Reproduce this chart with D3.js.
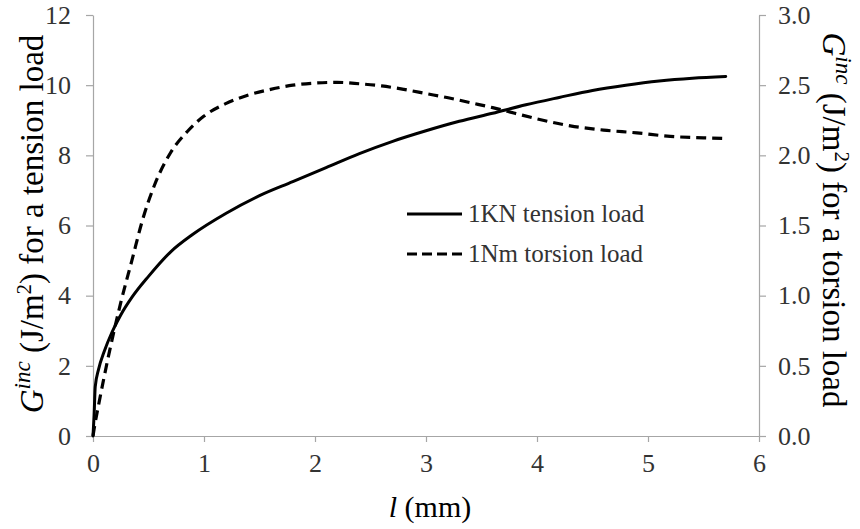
<!DOCTYPE html>
<html><head><meta charset="utf-8">
<script src="https://cdn.jsdelivr.net/npm/d3@7"></script>
<style>
body{margin:0;background:#fff;}
</style></head>
<body><svg id="c" width="860" height="529"></svg>
<script>
// Data
const tensionX = [0,0.01,0.02,0.05,0.1,0.17,0.25,0.35,0.5,0.7,0.9,1.2,1.5,1.8,2.1,2.4,2.7,3.0,3.3,3.6,3.9,4.2,4.5,4.8,5.1,5.4,5.7];
const tensionY = [0,0.6,1.4,1.9,2.4,2.95,3.45,3.95,4.55,5.25,5.75,6.35,6.85,7.25,7.65,8.05,8.4,8.7,8.97,9.2,9.44,9.65,9.85,10.0,10.12,10.2,10.25];
const torsionX = [0,0.01,0.05,0.1,0.17,0.25,0.35,0.45,0.55,0.7,0.85,1.0,1.2,1.4,1.6,1.8,2.0,2.2,2.4,2.6,2.8,3.0,3.2,3.4,3.6,3.8,4.0,4.3,4.6,4.9,5.2,5.5,5.7];
const torsionY = [0,0.05,0.22,0.42,0.68,0.95,1.25,1.55,1.78,2.02,2.17,2.28,2.37,2.43,2.47,2.5,2.515,2.52,2.51,2.495,2.47,2.44,2.41,2.375,2.34,2.3,2.26,2.21,2.18,2.16,2.135,2.125,2.12];
const xTicks = [0,1,2,3,4,5,6];
const yLeftTicks = [0,2,4,6,8,10,12];
const yRightTicks = [0,0.5,1,1.5,2,2.5,3];
const seriesNames = ["1KN tension load","1Nm torsion load"];

const FONT = '"Liberation Serif", "Times New Roman", serif';

const svg = d3.select("#c");
const L=93, R=759, T=15, B=436;
const x = d3.scaleLinear().domain([0,6]).range([L,R]);
const yL = d3.scaleLinear().domain([0,12]).range([B,T]);
const yR = d3.scaleLinear().domain([0,3]).range([B,T]);
const axisColor="#a6a6a6", textColor="#333";

function style(g){
  g.attr("font-family",null).attr("font-size",null);
  g.selectAll("path.domain").attr("stroke",axisColor).attr("stroke-width",1.2);
  g.selectAll(".tick line").attr("stroke",axisColor).attr("stroke-width",1.2);
  g.selectAll(".tick text").attr("fill",textColor).style("font-size","26px").style("font-family",FONT);
}
const gx = svg.append("g").attr("transform",`translate(0,${B})`)
  .call(d3.axisBottom(x).tickValues(xTicks).tickFormat(d3.format("d")).tickSizeInner(6).tickSizeOuter(0).tickPadding(12));
style(gx);
const gl = svg.append("g").attr("transform",`translate(${L},0)`)
  .call(d3.axisLeft(yL).tickValues(yLeftTicks).tickFormat(d3.format("d")).tickSizeInner(7).tickSizeOuter(0).tickPadding(15));
style(gl);
const gr = svg.append("g").attr("transform",`translate(${R},0)`)
  .call(d3.axisRight(yR).tickValues(yRightTicks).tickFormat(d3.format(".1f")).tickSizeInner(7).tickSizeOuter(0).tickPadding(12));
style(gr);

const lineT = d3.line().x((d,i)=>x(tensionX[i])).y(d=>yL(d)).curve(d3.curveMonotoneX);
const lineR = d3.line().x((d,i)=>x(torsionX[i])).y(d=>yR(d)).curve(d3.curveMonotoneX);
svg.append("path").attr("d",lineR(torsionY)).attr("fill","none").attr("stroke","#000")
  .attr("stroke-width",3.2).attr("stroke-dasharray","10,6");
svg.append("path").attr("d",lineT(tensionY)).attr("fill","none").attr("stroke","#000")
  .attr("stroke-width",3).attr("stroke-linecap","round");

// legend
const leg = svg.append("g");
seriesNames.forEach((n,i)=>{
  const yy = 214 + i*40;
  leg.append("line").attr("x1",407).attr("x2",462).attr("y1",yy).attr("y2",yy)
    .attr("stroke","#000").attr("stroke-width",3)
    .attr("stroke-dasharray", i===1 ? "10,5" : null);
  leg.append("text").attr("x",468).attr("y",yy+8).attr("fill",textColor)
    .style("font-family",FONT).style("font-size","25px").text(n);
});

// x title
const xt = svg.append("text").attr("x",430).attr("y",517).attr("text-anchor","middle")
  .attr("fill","#000").style("font-family",FONT).style("font-size","30px");
xt.append("tspan").style("font-style","italic").text("l");
xt.append("tspan").text(" (mm)");

function yTitle(g, tail){
  g.append("tspan").style("font-style","italic").text("G");
  g.append("tspan").style("font-style","italic").style("font-size","23px").attr("dy",-13).text("inc");
  g.append("tspan").attr("dy",13).text(" (J/m");
  g.append("tspan").style("font-size","21px").attr("dy",-12).text("2");
  g.append("tspan").attr("dy",12).text(") " + tail);
}
const t1 = svg.append("text").attr("transform","translate(43,224) rotate(-90)")
  .attr("text-anchor","middle").attr("fill","#000").style("font-family",FONT).style("font-size","33px");
yTitle(t1,"for a tension load");
const t2 = svg.append("text").attr("transform","translate(823,220) rotate(90)")
  .attr("text-anchor","middle").attr("fill","#000").style("font-family",FONT).style("font-size","33px");
yTitle(t2,"for a torsion load");
</script></body></html>
